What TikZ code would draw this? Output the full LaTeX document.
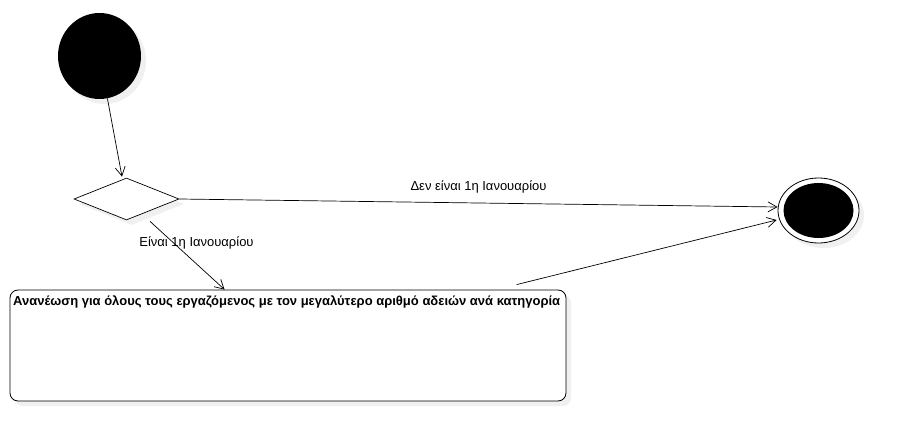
\documentclass[tikz,border=0pt]{standalone}
\usepackage{fontspec}
\setmainfont{Liberation Sans}
\usetikzlibrary{arrows.meta,shapes.geometric,shadows,calc}
\begin{document}
\begin{tikzpicture}[x=1pt,y=-1pt,
  flow/.style={draw=black, line width=0.7pt, -{Straight Barb[length=9pt,width=10pt,line width=0.7pt]}},
  shade/.style={drop shadow={shadow xshift=5pt,shadow yshift=-5pt,fill=black,opacity=0.06}},
  lbl/.style={font=\fontsize{13}{15}\selectfont, inner sep=0pt}
]
\useasboundingbox[fill=white] (0,0) rectangle (899,441);
% initial
\node[ellipse, fill=black, minimum width=83pt, minimum height=86pt, inner sep=0pt, shade] (init) at (99.5,56) {};
% decision
\node[diamond, draw=black, line width=0.7pt, fill=white, minimum width=105pt, minimum height=42pt, inner sep=0pt, aspect=2.5, shade] (dec) at (126.5,199) {};
% final
\node[ellipse, draw=black, line width=0.8pt, fill=white, minimum width=81pt, minimum height=65pt, inner sep=0pt, shade] (fin) at (818.5,210.5) {};
\node[ellipse, fill=black, minimum width=70pt, minimum height=55pt, inner sep=0pt] (finin) at (fin.center) {};
% action box
\node[draw=black, line width=0.8pt, rounded corners=8pt, fill=white, minimum width=556pt, minimum height=111pt, inner sep=0pt, shade] (box) at (288,345.5) {};
\node[lbl, font=\bfseries\fontsize{13}{15}\selectfont, anchor=west] (boxt) at (13,302) {Ανανέωση για όλους τους εργαζόμενος με τον μεγαλύτερο αριθμό αδειών ανά κατηγορία};
% connectors
\coordinate (c1) at ($(dec.north)+(-4.5,-1)$);
\draw[flow] (init) -- (c1);
\coordinate (d2s) at ($(dec.south)+(23.5,1)$);
\coordinate (d2e) at ($(box.north west)+(215,0)$);
\draw[flow] (d2s) -- (d2e);
\coordinate (d3e) at ($(fin.west)+(0,-3.5)$);
\draw[flow] (dec.east) -- (d3e);
\coordinate (b4s) at ($(box.north west)+(507,-5)$);
\coordinate (b4e) at ($(fin.west)+(-1,9.5)$);
\draw[flow] (b4s) -- (b4e);
% labels
\node[lbl] (l1) at (196.5,242.5) {Είναι 1η Ιανουαρίου};
\node[lbl] (l2) at (478.5,186.5) {Δεν είναι 1η Ιανουαρίου};
\end{tikzpicture}
\end{document}
